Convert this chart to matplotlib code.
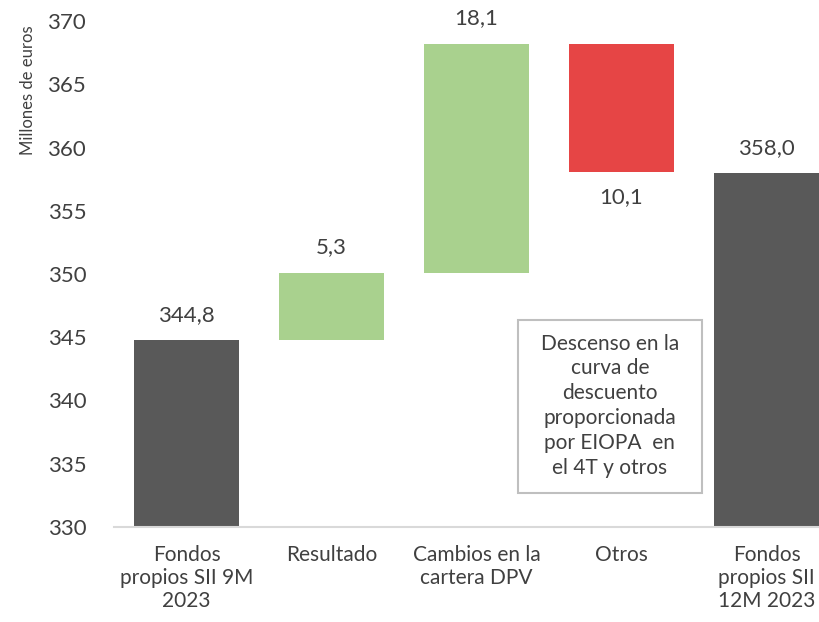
import numpy as np
import matplotlib
matplotlib.use('Agg')
import matplotlib.pyplot as plt
from matplotlib.patches import Rectangle

plt.rcParams['font.family'] = ['Lato', 'DejaVu Sans']

# Datos
categorias = ['Fondos\npropios SII 9M\n2023', 'Resultado', 'Cambios en la\ncartera DPV', 'Otros', 'Fondos\npropios SII\n12M 2023']
inicio = 344.8
variaciones = [5.3, 18.1, -10.1]
final = 358.0
etiquetas = ['344,8', '5,3', '18,1', '10,1', '358,0']
nota = 'Descenso en la\ncurva de\ndescuento\nproporcionada\npor EIOPA  en\nel 4T y otros'

gris = '#595959'
verde = '#a9d18e'
rojo = '#e64545'
texto = '#404040'

# Alturas y bases del waterfall
acumulado = inicio + np.cumsum([0] + variaciones)
alturas = [inicio] + [abs(v) for v in variaciones] + [final]
bases = [0] + [min(acumulado[i], acumulado[i + 1]) for i in range(len(variaciones))] + [0]
colores = [gris] + [verde if v > 0 else rojo for v in variaciones] + [gris]

fig = plt.figure(figsize=(8.19, 6.22), dpi=100)
ax = fig.add_axes([114 / 819, 95 / 622, 1 - 114 / 819, (527 - 21) / 622])

x = np.arange(len(categorias))
ax.bar(x, alturas, bottom=bases, width=0.72, color=colores, zorder=2)

# Etiquetas de valor
valores = [inicio] + variaciones + [final]
for i, v in enumerate(valores):
    tope = bases[i] + alturas[i]
    if v >= 0:
        ax.text(x[i], tope + 1.2, etiquetas[i], ha='center', va='bottom',
                fontsize=16, color=texto)
    else:
        ax.text(x[i], bases[i] - 1.2, etiquetas[i], ha='center', va='top',
                fontsize=16, color=texto)

ax.set_ylim(330, 370)
ax.set_yticks(np.arange(330, 371, 5))
ax.set_xlim(-0.5, 4.362)
ax.set_xticks(x)
ax.set_xticklabels(categorias, fontsize=15, color=texto, linespacing=1.2)
ax.tick_params(axis='y', length=0, pad=20, labelsize=16, labelcolor=texto)
ax.tick_params(axis='x', length=0, pad=13)

for s in ['top', 'right', 'left']:
    ax.spines[s].set_visible(False)
ax.spines['bottom'].set_color('#d9d9d9')
ax.spines['bottom'].set_linewidth(1.5)

fig.text(28 / 819, 1 - 90 / 622, 'Millones de euros', rotation=90, ha='center', va='center',
         fontsize=12, color=texto)

# Nota explicativa
ax.add_patch(Rectangle((2.286, 332.7), 3.555 - 2.286, 346.4 - 332.7, facecolor='white',
                       edgecolor='#bfbfbf', linewidth=1.5, zorder=3))
ax.text(2.92, 339.6, nota, ha='center', va='center', fontsize=15, color=texto,
        linespacing=1.3, zorder=4)

fig.savefig('out.png', dpi=100)
